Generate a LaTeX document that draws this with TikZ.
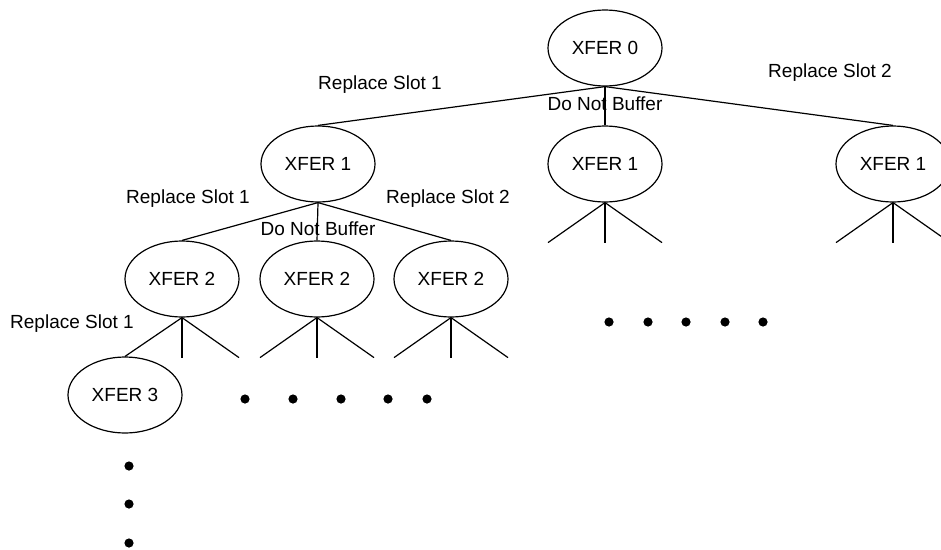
\documentclass[tikz,border=0pt]{standalone}
\usepackage{fontspec}
\setmainfont{Liberation Sans}
\usetikzlibrary{shapes.geometric}
\tikzset{
  xfer/.style={draw, ellipse, line width=1.2pt, minimum width=114pt, minimum height=76pt,
               inner sep=0pt, font=\fontsize{19}{22}\selectfont},
  link/.style={line width=1.2pt},
  lbl/.style={font=\fontsize{19}{22}\selectfont, inner sep=0pt},
  dot/.style={fill=black}
}
\begin{document}
\begin{tikzpicture}[x=1pt,y=-1pt]
\useasboundingbox (0,0) rectangle (941,549);
\clip (0,0) rectangle (941,549);

% tree nodes
\node[xfer] (r)   at (605,48)  {XFER 0};
\node[xfer] (a1)  at (318,164) {XFER 1};
\node[xfer] (a2)  at (605,164) {XFER 1};
\node[xfer] (a3)  at (893,164) {XFER 1};
\node[xfer] (b1)  at (182,279) {XFER 2};
\node[xfer] (b2)  at (317,279) {XFER 2};
\node[xfer] (b3)  at (451,279) {XFER 2};
\node[xfer] (c1)  at (125,395) {XFER 3};

% branches from the root
\draw[link] (r.south) -- (a1.north);
\draw[link] (r.south) -- (a2.north);
\draw[link] (r.south) -- (a3.north);

% branches from the left XFER 1
\draw[link] (a1.south) -- (b1.north);
\draw[link] (a1.south) -- (b2.north);
\draw[link] (a1.south) -- (b3.north);

% open stubs under the other XFER 1 nodes
\foreach \n in {a2,a3}{
  \coordinate (\n l) at ([xshift=-57pt,yshift=-40pt]\n.south);
  \coordinate (\n m) at ([yshift=-40pt]\n.south);
  \coordinate (\n r) at ([xshift=57pt,yshift=-40pt]\n.south);
  \draw[link] (\n.south) -- (\n l);
  \draw[link] (\n.south) -- (\n m);
  \draw[link] (\n.south) -- (\n r);
}

% branches and stubs under the XFER 2 nodes
\draw[link] (b1.south) -- (c1.north);
\coordinate (b1m) at ([yshift=-40pt]b1.south);
\coordinate (b1r) at ([xshift=57pt,yshift=-40pt]b1.south);
\draw[link] (b1.south) -- (b1m);
\draw[link] (b1.south) -- (b1r);
\foreach \n in {b2,b3}{
  \coordinate (\n l) at ([xshift=-57pt,yshift=-40pt]\n.south);
  \coordinate (\n m) at ([yshift=-40pt]\n.south);
  \coordinate (\n r) at ([xshift=57pt,yshift=-40pt]\n.south);
  \draw[link] (\n.south) -- (\n l);
  \draw[link] (\n.south) -- (\n m);
  \draw[link] (\n.south) -- (\n r);
}

% branch labels
\node[lbl] (t1) at (380,85)  {Replace Slot 1};
\node[lbl] (t2) at (605,104) {Do Not Buffer};
\node[lbl] (t3) at (830,73)  {Replace Slot 2};
\node[lbl] (u1) at (188,199) {Replace Slot 1};
\node[lbl] (u2) at (318,229) {Do Not Buffer};
\node[lbl] (u3) at (448,199) {Replace Slot 2};
\node[lbl] (v1) at (72,324)  {Replace Slot 1};

% ellipsis dots
\foreach \x in {609,648,686,725,763} \fill[dot] (\x,322) circle (4.6pt);
\foreach \x in {245,293,341,388,427} \fill[dot] (\x,399) circle (4.6pt);
\foreach \y in {466,504,543} \fill[dot] (129,\y) circle (4.6pt);
\end{tikzpicture}
\end{document}
